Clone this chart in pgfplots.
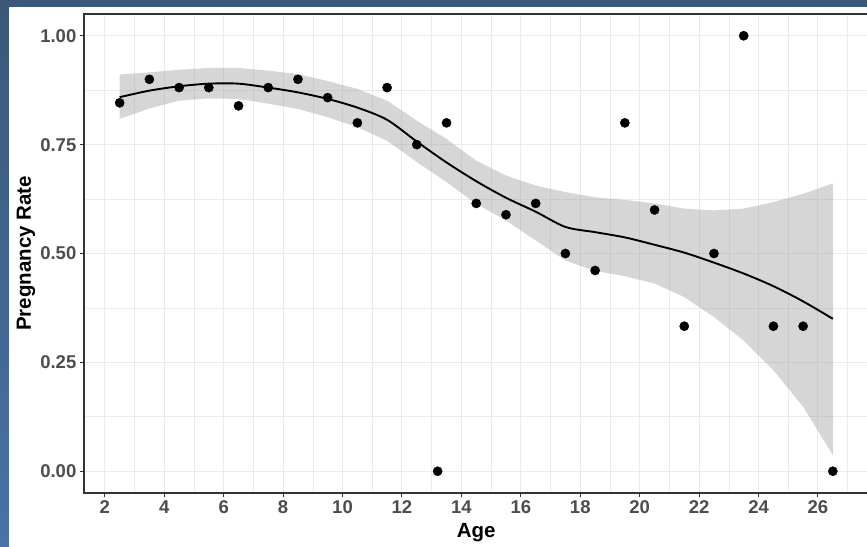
\documentclass[border=0pt]{standalone}
\usepackage{fontspec}
\setmainfont{Liberation Sans}
\usepackage{pgfplots}
\pgfplotsset{compat=1.18}
\definecolor{tickgray}{HTML}{4D4D4D}
\definecolor{bordergray}{HTML}{333333}
\definecolor{gridgray}{HTML}{EBEBEB}
\definecolor{bgblueA}{HTML}{3B5878}
\definecolor{bgblueB}{HTML}{4A72A6}
\begin{document}
\begin{tikzpicture}
\fill[bgblueA] (0pt,539pt) rectangle (867pt,546pt);
\shade[top color=bgblueA, bottom color=bgblueB] (0pt,0pt) rectangle (9pt,539pt);
\fill[white] (9pt,0pt) rectangle (867pt,539pt);
\begin{scope}
\clip (0pt,0pt) rectangle (867pt,546pt);
\begin{axis}[
  at={(84pt,53pt)}, anchor=south west,
  scale only axis, width=784.5pt, height=479pt,
  xmin=1.3, xmax=27.7, ymin=-0.05, ymax=1.05,
  xtick={2,4,6,8,10,12,14,16,18,20,22,24,26},
  xticklabels={2,4,6,8,10,12,14,16,18,20,22,24,26},
  minor xtick={3,5,7,9,11,13,15,17,19,21,23,25,27},
  ytick={0,0.25,0.5,0.75,1},
  yticklabels={0.00,0.25,0.50,0.75,1.00},
  minor ytick={0.125,0.375,0.625,0.875},
  grid=both,
  major grid style={gridgray, line width=1pt},
  minor grid style={gridgray, line width=0.6pt},
  tick align=outside, tick pos=left,
  major tick length=4pt, minor tick length=0pt,
  tick style={bordergray, line width=1pt},
  axis line style={bordergray, line width=1.1pt},
  ticklabel style={font=\fontsize{18.5}{18.5}\selectfont\bfseries, text=tickgray, inner sep=3.5pt},
  xlabel={Age}, ylabel={Pregnancy Rate},
  label style={font=\fontsize{20.5}{20.5}\selectfont\bfseries, text=black},
  xlabel style={at={(axis description cs:0.5,0)}, anchor=base, yshift=-44pt},
  ylabel style={at={(axis description cs:0,0.5)}, anchor=base, yshift=53pt},
]
% confidence band (upper edge forward, lower edge back)
\addplot[fill=black!40, fill opacity=0.4, draw=none] coordinates {
(2.5,0.911) (3.5,0.916) (4.5,0.922) (5.5,0.926) (6.5,0.926) (7.5,0.920)
(8.5,0.912) (9.5,0.896) (10.5,0.878) (11.5,0.851) (12.5,0.805) (13.5,0.763)
(14.5,0.713) (15.5,0.679) (16.5,0.656) (17.5,0.641) (18.5,0.629) (19.5,0.623)
(20.5,0.615) (21.5,0.603) (22.5,0.599) (23.5,0.603) (24.5,0.618) (25.5,0.637)
(26.5,0.661)
(26.5,0.037) (25.5,0.148) (24.5,0.232) (23.5,0.300) (22.5,0.354) (21.5,0.400)
(20.5,0.431) (19.5,0.448) (18.5,0.460) (17.5,0.484) (16.5,0.530) (15.5,0.576)
(14.5,0.614) (13.5,0.664) (12.5,0.710) (11.5,0.759) (10.5,0.790) (9.5,0.813)
(8.5,0.832) (7.5,0.844) (6.5,0.855) (5.5,0.856) (4.5,0.851) (3.5,0.833)
(2.5,0.809)} -- cycle;
% smooth line
\addplot[black, line width=1.9pt, smooth, no marks] coordinates {
(2.5,0.859) (3.5,0.874) (4.5,0.884) (5.5,0.890) (6.5,0.890) (7.5,0.881)
(8.5,0.870) (9.5,0.855) (10.5,0.835) (11.5,0.807) (12.5,0.757) (13.5,0.709)
(14.5,0.666) (15.5,0.628) (16.5,0.596) (17.5,0.561) (18.5,0.549) (19.5,0.537)
(20.5,0.520) (21.5,0.502) (22.5,0.479) (23.5,0.454) (24.5,0.425) (25.5,0.390)
(26.5,0.350)};
% observed points
\addplot[only marks, mark=*, mark size=4.6pt, black] coordinates {
(2.5,0.846) (3.5,0.900) (4.5,0.881) (5.5,0.881) (6.5,0.839) (7.5,0.881)
(8.5,0.900) (9.5,0.858) (10.5,0.800) (11.5,0.881) (12.5,0.750) (13.2,0.000)
(13.5,0.800) (14.5,0.615) (15.5,0.589) (16.5,0.615) (17.5,0.500) (18.5,0.461)
(19.5,0.800) (20.5,0.600) (21.5,0.333) (22.5,0.500) (23.5,1.000) (24.5,0.333)
(25.5,0.333) (26.5,0.000)};
\end{axis}
\end{scope}
\pgfresetboundingbox
\path[use as bounding box] (0pt,0pt) rectangle (867pt,546pt);
\end{tikzpicture}
\end{document}
